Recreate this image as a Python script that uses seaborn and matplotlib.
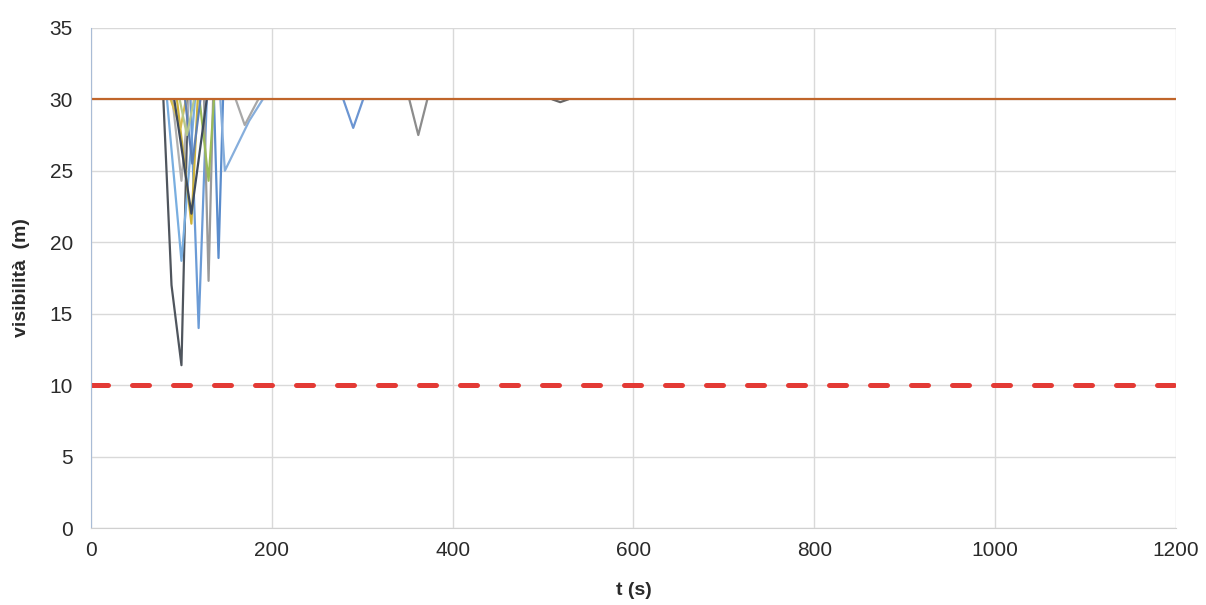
import pandas as pd
import matplotlib
matplotlib.use("Agg")
import matplotlib.pyplot as plt
import seaborn as sns

# time (s) and visibility (m), one pair per run
t_run1 = [80, 89, 100, 107]
v_run1 = [30, 17, 11.4, 30]
t_run2 = [84, 100, 115]
v_run2 = [30, 18.7, 30]
t_run3 = [110, 119, 128]
v_run3 = [30, 14, 30]
t_run4 = [125, 130, 135]
v_run4 = [30, 17.3, 30]
t_run5 = [136, 141, 146]
v_run5 = [30, 18.9, 30]
t_run6 = [143, 148, 175, 190]
v_run6 = [30, 25, 28.5, 30]
t_run7 = [160, 170, 185]
v_run7 = [30, 28.2, 30]
t_run8 = [90, 100, 108]
v_run8 = [30, 24.3, 30]
t_run9 = [95, 111, 118]
v_run9 = [30, 21.3, 30]
t_run10 = [120, 130, 136]
v_run10 = [30, 24.3, 30]
t_run11 = [88, 99, 105]
v_run11 = [30, 28, 30]
t_run12 = [279, 290, 301]
v_run12 = [30, 28, 30]
t_run13 = [352, 362, 372]
v_run13 = [30, 27.5, 30]
t_run14 = [510, 519, 528]
v_run14 = [30, 29.8, 30]
t_run15 = [92, 111, 128]
v_run15 = [30, 22, 30]
t_run16 = [104, 112, 121]
v_run16 = [30, 25.5, 30]
t_run17 = [98, 106, 114]
v_run17 = [30, 27.5, 30]

t_limit = [0, 1200]
v_max = [30, 30]
v_min = [10, 10]

runs = [(t_run1, v_run1), (t_run2, v_run2), (t_run3, v_run3), (t_run4, v_run4),
        (t_run5, v_run5), (t_run6, v_run6), (t_run7, v_run7), (t_run8, v_run8),
        (t_run9, v_run9), (t_run10, v_run10), (t_run11, v_run11), (t_run12, v_run12),
        (t_run13, v_run13), (t_run14, v_run14), (t_run15, v_run15), (t_run16, v_run16),
        (t_run17, v_run17)]
colors = ["#4f555d", "#79aee0", "#6b9bd6", "#9a9a9a", "#5a8ccc", "#86aedc", "#a8a8a8",
          "#b0b0b0", "#cdb23a", "#9bbb59", "#d8bd50", "#6b95d2", "#8c8c8c", "#666666",
          "#3e4a5c", "#5d7fb5", "#b8c98a"]

rows = []
for i, (t, v) in enumerate(runs):
    for a, b in zip(t, v):
        rows.append({"run": "r%d" % (i + 1), "t": a, "vis": b})
df = pd.DataFrame(rows)

sns.set_style("white")
plt.rcParams["font.family"] = ["Liberation Sans", "DejaVu Sans"]

fig = plt.figure(figsize=(12.06, 6.05), dpi=100)
ax = fig.add_axes([0.0755, 0.127, 0.8995, 0.827])

sns.lineplot(data=df, x="t", y="vis", hue="run", palette=colors, linewidth=1.6,
             legend=False, ax=ax, sort=False, estimator=None)
sns.lineplot(x=t_limit, y=v_max, color="#c0652a", linewidth=1.6, ax=ax)
sns.lineplot(x=t_limit, y=v_min, color="#e33a35", linewidth=3.6, ax=ax,
             linestyle=(0, (3.4, 4.8)), dash_capstyle="round")

ax.set_xlim(0, 1200)
ax.set_ylim(0, 35)
ax.set_xticks(range(0, 1201, 200))
ax.set_yticks(range(0, 36, 5))
ax.grid(True, color="#d9d9d9", linewidth=1)
ax.set_axisbelow(True)
for side in ["top", "right"]:
    ax.spines[side].set_visible(False)
ax.spines["left"].set_color("#a9bcd6")
ax.spines["bottom"].set_color("#d0d0d0")
ax.tick_params(axis="both", labelsize=15, length=0, colors="#2a2a2a")
ax.tick_params(axis="y", pad=13)
ax.tick_params(axis="x", pad=9)
ax.set_xlabel("t (s)", fontsize=14, fontweight="bold", labelpad=16, color="#2a2a2a")
ax.set_ylabel("visibilità  (m)", fontsize=14, fontweight="bold", labelpad=14, color="#2a2a2a")

fig.savefig("out.png", dpi=100)
plt.close()
